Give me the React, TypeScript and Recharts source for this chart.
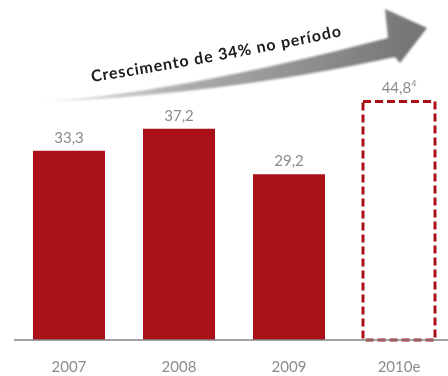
import { BarChart, Bar, XAxis, YAxis, Cell, LabelList } from "recharts"

const years = ["2007", "2008", "2009", "2010e"]
// bar heights as drawn; the 2010e outline sits a bit lower than its 44,8 label
const drawnValues = [33.3, 37.2, 29.2, 42.0]
const valueLabels = ["33,3", "37,2", "29,2", "44,8"]
const footnotes = ["", "", "", "4"]
const estimated = [false, false, false, true]

const RED = "#aa1018"
const GREY_TEXT = "#8c8c8c"
const FONT = "Lato, 'Open Sans', sans-serif"

const data = years.map((year, i) => ({
  year,
  value: drawnValues[i],
  label: valueLabels[i],
  note: footnotes[i],
}))

function ValueLabel(props: any) {
  const { x, y, width, index } = props
  const d = data[index]
  return (
    <text
      x={x + width / 2}
      y={y - 8}
      textAnchor="middle"
      fontSize={15}
      fontFamily={FONT}
      fill={GREY_TEXT}
    >
      {d.label}
      {d.note && (
        <tspan fontSize={9} dy={-6}>
          {d.note}
        </tspan>
      )}
    </text>
  )
}

function GrowthArrow() {
  return (
    <svg
      width={448}
      height={376}
      style={{ position: "absolute", left: 0, top: 0, pointerEvents: "none" }}
    >
      <defs>
        <linearGradient id="bandFade" x1="0" y1="0" x2="1" y2="0">
          <stop offset="0" stopColor="#ececec" />
          <stop offset="0.4" stopColor="#ababab" />
          <stop offset="1" stopColor="#727272" />
        </linearGradient>
        <filter id="soft" x="-5%" y="-20%" width="110%" height="140%">
          <feGaussianBlur stdDeviation="1.3" />
        </filter>
        <path id="textCurve" d="M 92 82 Q 220 62 352 34" />
      </defs>
      <path
        d="M 30 102 C 120 99, 250 74, 388 38 L 385 9 L 427 28 L 400 63 L 395 57 C 280 82, 150 99, 30 102 Z"
        fill="url(#bandFade)"
        filter="url(#soft)"
      />
      <text fontSize={16} fontWeight={700} fontFamily={FONT} fill="#1c1c1c">
        <textPath href="#textCurve" textLength={254} lengthAdjust="spacing">
          Crescimento de 34% no período
        </textPath>
      </text>
    </svg>
  )
}

export default function App() {
  return (
    <div style={{ position: "fixed", left: 0, top: 0, width: 448, height: 376, overflow: "hidden" }}>
      <BarChart
        width={454}
        height={376}
        data={data}
        margin={{ top: 56, right: 0, left: 14, bottom: 0 }}
        barSize={72}
      >
        <XAxis
          dataKey="year"
          height={36}
          tickLine={false}
          tickSize={0}
          tickMargin={21}
          axisLine={{ stroke: "#858585", strokeWidth: 1.5 }}
          tick={{ fontSize: 15, fill: GREY_TEXT, fontFamily: FONT }}
        />
        <YAxis hide domain={[0, 50]} />
        <Bar dataKey="value" isAnimationActive={false}>
          {data.map((d, i) =>
            estimated[i] ? (
              <Cell key={d.year} fill="#ffffff" stroke={RED} strokeWidth={3} strokeDasharray="8 4" />
            ) : (
              <Cell key={d.year} fill={RED} />
            )
          )}
          <LabelList dataKey="label" content={ValueLabel} />
        </Bar>
      </BarChart>
      <GrowthArrow />
    </div>
  )
}
